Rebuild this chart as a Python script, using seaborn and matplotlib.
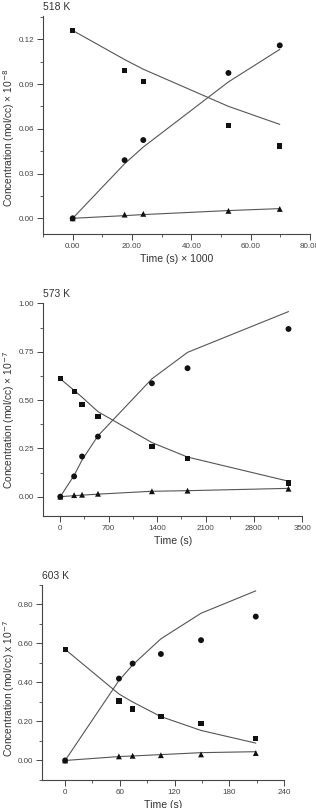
import matplotlib
matplotlib.use("Agg")
import matplotlib.pyplot as plt
from matplotlib.ticker import MultipleLocator, FormatStrFormatter
import pandas as pd
import seaborn as sns

sns.set_style("ticks")
plt.rcParams['font.family'] = ['Liberation Sans', 'DejaVu Sans']

# 518 K  (time in s x 1000, conc x 1e-8)
t518 = [0, 17.5, 23.8, 52.5, 69.8]
sq518 = [0.126, 0.099, 0.092, 0.0625, 0.0485]
ci518 = [0.0, 0.039, 0.0525, 0.0975, 0.116]
tr518 = [0.0, 0.0025, 0.003, 0.005, 0.0063]
fit_sq518 = [0.126, 0.1065, 0.100, 0.0751, 0.063]
fit_ci518 = [0.0, 0.0366, 0.0478, 0.0915, 0.1133]
fit_tr518 = [0.0, 0.0018, 0.0025, 0.0052, 0.0065]

# 573 K  (time in s, conc x 1e-7)
t573 = [0, 200, 315, 545, 1325, 1840, 3300]
sq573 = [0.61, 0.543, 0.479, 0.413, 0.261, 0.197, 0.071]
ci573 = [0.0, 0.105, 0.208, 0.311, 0.587, 0.665, 0.868]
tr573 = [0.0, 0.008, 0.01, 0.015, 0.028, 0.031, 0.041]
fit_sq573 = [0.61, 0.55, 0.515, 0.44, 0.28, 0.205, 0.08]
fit_ci573 = [0.0, 0.11, 0.19, 0.315, 0.61, 0.747, 0.958]
fit_tr573 = [0.0, 0.005, 0.008, 0.013, 0.028, 0.031, 0.043]

# 603 K  (time in s, conc x 1e-7)
t603 = [0, 59, 74, 105, 149, 209]
sq603 = [0.57, 0.305, 0.264, 0.226, 0.188, 0.113]
ci603 = [0.0, 0.42, 0.497, 0.546, 0.617, 0.738]
tr603 = [0.0, 0.021, 0.024, 0.027, 0.031, 0.038]
fit_sq603 = [0.57, 0.341, 0.30, 0.225, 0.154, 0.089]
fit_ci603 = [0.0, 0.41, 0.49, 0.624, 0.755, 0.870]
fit_tr603 = [0.0, 0.02, 0.023, 0.03, 0.04, 0.045]

panels = [
    dict(t=t518, sq=sq518, ci=ci518, tr=tr518, fsq=fit_sq518, fci=fit_ci518, ftr=fit_tr518,
         title="518 K", xlabel="Time (s) \u00d7 1000",
         ylabel="Concentration (mol/cc) \u00d7 10$^{-8}$",
         pos=[0.1361, 0.7108, 0.845, 0.2694], xlim=(-10, 80), ylim=(-0.0103, 0.1357),
         xmaj=20, xmin=10, ymaj=0.03, ymin=0.015, xfmt="%.2f", yfmt="%.2f", ly=0.44),
    dict(t=t573, sq=sq573, ci=ci573, tr=tr573, fsq=fit_sq573, fci=fit_ci573, ftr=fit_tr573,
         title="573 K", xlabel="Time (s)",
         ylabel="Concentration (mol/cc) \u00d7 10$^{-7}$",
         pos=[0.1361, 0.3614, 0.8206, 0.263], xlim=(-250, 3500), ylim=(-0.1, 1.0),
         xmaj=700, xmin=350, ymaj=0.25, ymin=0.125, xfmt="%d", yfmt="%.2f", ly=0.45),
    dict(t=t603, sq=sq603, ci=ci603, tr=tr603, fsq=fit_sq603, fci=fit_ci603, ftr=fit_tr603,
         title="603 K", xlabel="Time (s)",
         ylabel="Concentration (mol/cc) x 10$^{-7}$",
         pos=[0.1339, 0.0347, 0.765, 0.2413], xlim=(-25, 240), ylim=(-0.1, 0.9),
         xmaj=60, xmin=30, ymaj=0.2, ymin=0.1, xfmt="%d", yfmt="%.2f", ly=0.47),
]

W = 316
fig = plt.figure(figsize=(3.16, 8.08), dpi=100)
line_col = "#555555"
txt_col = "#333333"

for p in panels:
    ax = fig.add_axes(p["pos"])
    df = pd.DataFrame({"t": p["t"], "sq": p["sq"], "ci": p["ci"], "tr": p["tr"],
                       "fsq": p["fsq"], "fci": p["fci"], "ftr": p["ftr"]})
    for col in ["fsq", "fci", "ftr"]:
        sns.lineplot(data=df, x="t", y=col, ax=ax, color=line_col, lw=0.8,
                     sort=False, estimator=None, legend=False)
    sns.scatterplot(data=df, x="t", y="sq", ax=ax, marker="s", s=14, color="#111111",
                    edgecolor="none", zorder=3, legend=False)
    sns.scatterplot(data=df, x="t", y="ci", ax=ax, marker="o", s=18, color="#111111",
                    edgecolor="none", zorder=3, legend=False)
    sns.scatterplot(data=df, x="t", y="tr", ax=ax, marker="^", s=18, color="#111111",
                    edgecolor="none", zorder=3, legend=False)

    ax.set_xlim(*p["xlim"])
    ax.set_ylim(*p["ylim"])
    ax.xaxis.set_major_locator(MultipleLocator(p["xmaj"]))
    ax.xaxis.set_minor_locator(MultipleLocator(p["xmin"]))
    ax.yaxis.set_major_locator(MultipleLocator(p["ymaj"]))
    ax.yaxis.set_minor_locator(MultipleLocator(p["ymin"]))
    ax.xaxis.set_major_formatter(FormatStrFormatter(p["xfmt"]))
    ax.yaxis.set_major_formatter(FormatStrFormatter(p["yfmt"]))
    # no labels below zero
    ax.set_xticks([v for v in ax.get_xticks() if 0 <= v <= p["xlim"][1]])
    ax.set_yticks([v for v in ax.get_yticks() if -1e-9 <= v <= p["ylim"][1] + 1e-9])
    ax.tick_params(which="major", direction="out", length=4, width=0.7,
                   labelsize=5.8, colors="#444444", labelcolor="#444444", pad=2.5)
    ax.tick_params(which="minor", direction="out", length=2.2, width=0.6, colors="#444444")
    sns.despine(ax=ax)
    for s in ["left", "bottom"]:
        ax.spines[s].set_linewidth(0.8)
        ax.spines[s].set_color("#444444")
    ax.set_xlabel(p["xlabel"], fontsize=7.6, color=txt_col, labelpad=3)
    ax.set_ylabel(p["ylabel"], fontsize=7.4, color=txt_col)
    left_px = p["pos"][0] * W
    width_px = p["pos"][2] * W
    ax.yaxis.set_label_coords((1.5 - left_px) / width_px, p["ly"])
    ax.yaxis.label.set_va("top")
    ax.text(0.0, 1.02, p["title"], transform=ax.transAxes, fontsize=7.5, color=txt_col,
            ha="left", va="bottom")

fig.savefig("out.png", dpi=100)
